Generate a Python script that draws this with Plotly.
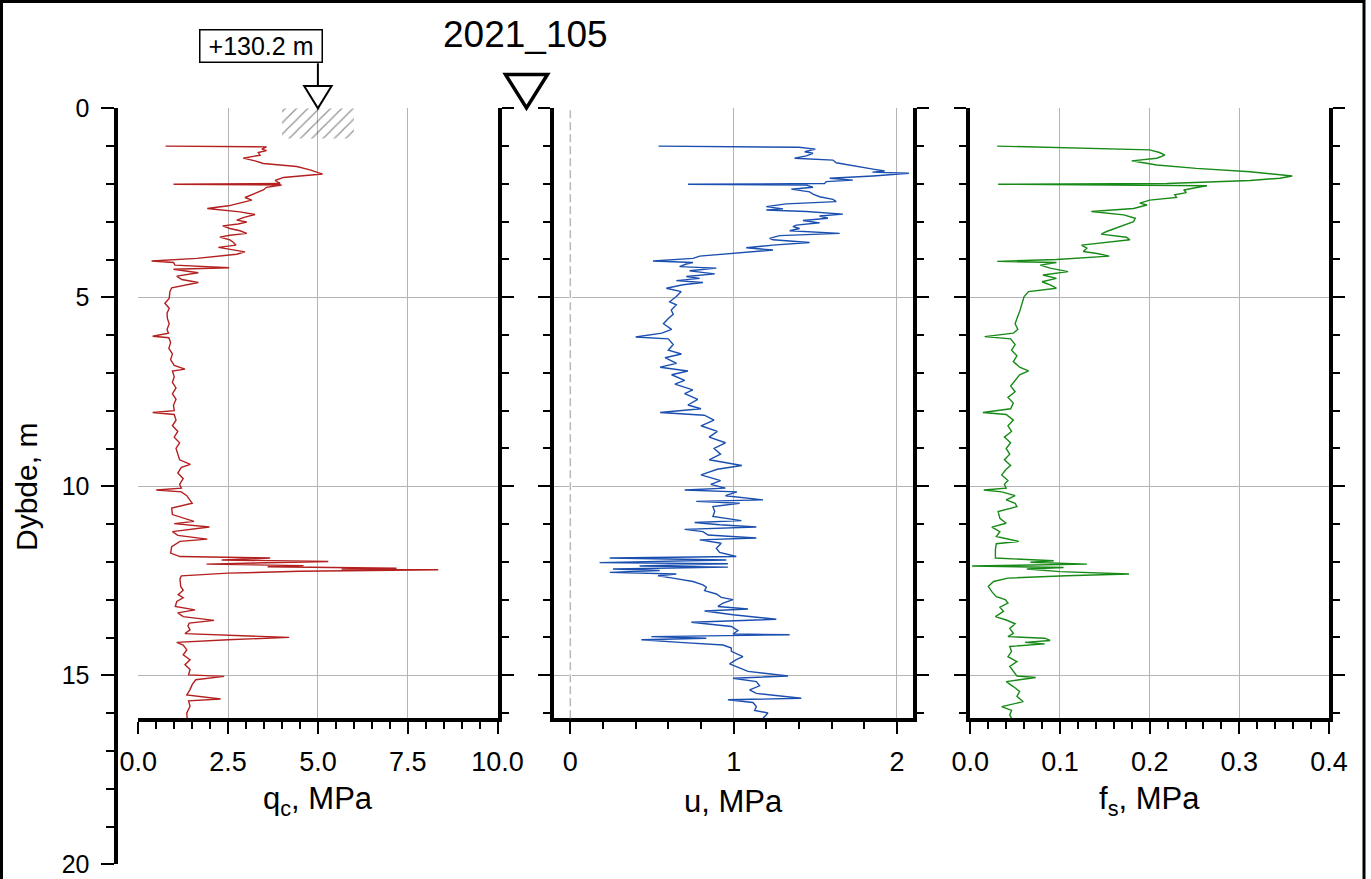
import plotly.graph_objects as go

# ---------------- data ----------------
title_text = "2021_105"
elevation_label = "+130.2 m"
depth_title = "Dybde, m"
qc_title = "q<sub>c</sub>, MPa"
u_title = "u, MPa"
fs_title = "f<sub>s</sub>, MPa"

depth_qc = [1.0, 1.02, 1.08, 1.12, 1.17, 1.24, 1.32, 1.39, 1.46, 1.54, 1.63, 1.74, 1.83, 1.91, 1.99, 2.01, 2.03,
            2.09, 2.16, 2.23, 2.29, 2.36, 2.43, 2.51, 2.58, 2.65, 2.71, 2.74, 2.81, 2.88, 2.96, 3.01, 3.06, 3.11,
            3.18, 3.24, 3.31, 3.36, 3.41, 3.48, 3.55, 3.62, 3.68, 3.73, 3.8, 3.86, 3.97, 4.04, 4.08, 4.15, 4.22,
            4.26, 4.35, 4.44, 4.53, 4.61, 4.68, 4.75, 4.85, 5.03, 5.16, 5.29, 5.42,
            5.56, 5.7, 5.85, 5.95, 6.03, 6.07, 6.2, 6.35, 6.5, 6.65, 6.8, 6.9, 6.95, 7.1, 7.25, 7.4, 7.55, 7.7,
            7.85, 8.0, 8.05, 8.1, 8.25, 8.4, 8.55, 8.7, 8.85, 9.0, 9.15, 9.3, 9.42, 9.5, 9.65, 9.8, 9.95, 10.05,
            10.1, 10.15, 10.25,
            10.36, 10.45, 10.58, 10.75, 10.93, 10.99, 11.08, 11.2, 11.3, 11.4, 11.46, 11.6, 11.77, 11.86, 11.9,
            11.95, 11.99, 12.03, 12.06, 12.1, 12.13, 12.17, 12.19, 12.21, 12.25, 12.3, 12.37, 12.45, 12.65, 12.75,
            12.87, 12.95, 13.05, 13.18, 13.22, 13.27, 13.35, 13.45, 13.55, 13.62, 13.7, 13.8, 13.9, 13.95, 14.0,
            14.06, 14.13, 14.2, 14.33, 14.46, 14.59, 14.72, 14.85, 14.99, 15.03, 15.12, 15.25, 15.38, 15.52,
            15.63, 15.68, 15.82, 16.0, 16.14]
qc = [0.76, 3.57, 3.44, 3.57, 3.34, 3.39, 2.92, 3.25, 3.48, 4.41, 4.78, 5.13, 4.04, 3.81, 3.95, 0.98, 3.99,
      3.57, 3.48, 3.30, 3.2, 2.97, 3.16, 2.83, 2.51, 1.92, 2.46, 2.83, 3.25, 2.97, 2.74, 3.02, 2.78, 2.35,
      2.55, 2.83, 3.02, 2.55, 2.27, 2.55, 2.65, 2.72, 2.23, 2.55, 2.97, 2.74, 1.63, 0.37, 0.98, 1.02, 2.53,
      0.98, 1.67, 1.07, 1.21, 1.67, 1.25, 0.93, 0.88, 0.86, 0.74, 0.86, 0.8,
      0.81, 0.86, 0.8, 0.84, 0.4, 0.85, 0.9, 0.85, 0.95, 0.9, 1.0, 1.3, 0.95, 1.0, 0.95, 1.05, 0.95, 1.05,
      0.98, 1.0, 0.4, 1.0, 1.05, 0.95, 1.1, 1.0, 1.15, 1.05, 1.1, 1.15, 1.45, 1.2, 1.1, 1.25, 1.15, 1.2,
      0.5, 1.2, 1.35,
      1.44, 1.5, 0.93, 0.95, 1.55, 1.0, 1.98, 0.95, 1.1, 1.92, 1.16, 0.93, 0.9, 1.16, 3.67,
      2.32, 5.29, 3.4, 1.9, 4.6, 3.6, 7.19, 5.66, 8.35, 4.5, 2.5, 1.2, 1.16, 1.18, 1.25,
      1.11, 1.25, 1.07, 1.03, 1.25, 1.58, 1.1, 1.25, 2.11, 1.42, 1.38, 1.44, 1.3, 3.02, 4.2,
      2.5, 1.07, 1.25, 1.35, 1.25, 1.44, 1.3, 1.44, 1.4, 2.39, 1.6, 1.5, 1.44, 1.35,
      2.29, 1.4, 1.44, 1.35, 1.36]

depth_u = [1.0, 1.03, 1.08, 1.15, 1.19, 1.26, 1.32, 1.37, 1.44, 1.54, 1.61, 1.66, 1.69, 1.72, 1.79, 1.85, 1.9,
           1.94, 1.99, 2.01, 2.03, 2.09, 2.14, 2.21, 2.27, 2.34, 2.41, 2.47, 2.53, 2.6, 2.66, 2.69, 2.73, 2.8,
           2.85, 2.91, 2.97, 3.03, 3.09, 3.13, 3.18, 3.24, 3.31, 3.37, 3.44, 3.48, 3.55, 3.62, 3.69, 3.75, 3.79,
           3.84, 3.91, 3.97, 4.04, 4.08, 4.12, 4.19, 4.23, 4.3, 4.38, 4.45, 4.5, 4.56, 4.61, 4.67, 4.76, 4.85,
           4.98, 5.12, 5.2, 5.34, 5.45,
           5.56, 5.7, 5.85, 5.95, 6.05, 6.1, 6.25, 6.4, 6.5, 6.6, 6.75, 6.85, 6.95, 7.05, 7.2, 7.3, 7.45, 7.55,
           7.7, 7.85, 7.95, 8.05, 8.12, 8.25, 8.4, 8.55, 8.7, 8.85, 9.0, 9.15, 9.3, 9.45, 9.55, 9.7, 9.85, 9.95,
           10.05, 10.1, 10.15, 10.25,
           10.36, 10.4, 10.45, 10.54, 10.67, 10.8, 10.91, 10.96, 11.02, 11.08, 11.14, 11.2, 11.29, 11.37, 11.42,
           11.51, 11.64, 11.75, 11.86, 11.9, 11.95, 12.02, 12.05, 12.11, 12.14, 12.19, 12.23, 12.28, 12.32,
           12.37, 12.43, 12.52, 12.61, 12.67, 12.76, 12.85, 12.94, 13.0, 13.09, 13.18, 13.25, 13.3, 13.4, 13.52,
           13.6, 13.71, 13.82, 13.91, 13.93, 13.98, 14.02, 14.06, 14.13, 14.2, 14.28, 14.37, 14.51, 14.59, 14.7,
           14.81, 14.9, 15.02, 15.08, 15.17, 15.28, 15.39, 15.48, 15.61, 15.65, 15.72, 15.83, 15.93, 16.0, 16.14]
u = [0.54, 1.4, 1.5, 1.435, 1.486, 1.445, 1.373, 1.608, 1.628, 1.75, 1.853, 1.925, 1.85, 2.073, 1.853, 1.588, 1.73,
     1.567, 1.557, 0.72, 1.445, 1.486, 1.353, 1.465, 1.486, 1.526, 1.608, 1.628, 1.322, 1.2, 1.302, 1.2, 1.445, 1.669,
     1.526, 1.577, 1.424, 1.526, 1.384, 1.363, 1.404, 1.343, 1.649, 1.282, 1.22, 1.241, 1.465, 1.241, 1.077, 1.241, 1.118,
     0.996, 0.792, 0.751, 0.506, 0.751, 0.71, 0.669, 0.894, 0.73, 0.884, 0.71, 0.792, 0.649, 0.812, 0.69, 0.588, 0.679,
     0.649, 0.608, 0.649, 0.618, 0.63,
     0.6, 0.57, 0.62, 0.56, 0.4, 0.6, 0.63, 0.6, 0.68, 0.58, 0.65, 0.55, 0.72, 0.62, 0.7, 0.64, 0.75, 0.7,
     0.78, 0.72, 0.8, 0.55, 0.82, 0.88, 0.8, 0.9, 0.85, 0.95, 0.88, 0.92, 0.85, 1.05, 0.9, 0.8, 0.92, 0.86,
     0.95, 0.7, 1.02, 0.95,
     1.18, 0.771, 1.037, 0.873, 0.884, 0.873, 1.047, 0.761, 0.914, 1.139, 0.7, 0.812, 0.843, 1.139, 0.792,
     0.924, 0.894, 0.914, 1.016, 0.241, 0.955, 0.179, 0.965, 0.424, 0.965, 0.261, 0.547, 0.241, 0.649,
     0.537, 0.628, 0.751, 0.812, 0.833, 0.822, 0.894, 0.924, 0.996, 0.935, 0.904, 1.088, 0.822, 0.996, 1.261,
     0.741, 0.986, 1.026, 0.996, 1.343, 0.496, 0.833, 0.435, 0.669, 0.935, 0.986, 0.986, 1.057, 1.016, 0.975,
     1.037, 1.088, 1.333, 0.996, 1.139, 1.159, 1.098, 1.139, 1.414, 0.965, 1.118, 1.139, 1.129, 1.21, 1.18]

depth_fs = [1.0, 1.1, 1.17, 1.24, 1.32, 1.39, 1.44, 1.5, 1.59, 1.68, 1.79, 1.85, 1.91, 1.99, 2.01, 2.05, 2.09,
            2.16, 2.23, 2.29, 2.36, 2.43, 2.51, 2.56, 2.65, 2.73, 2.82, 2.91, 3.0, 3.09, 3.18, 3.26, 3.33, 3.41,
            3.48, 3.55, 3.62, 3.7, 3.79, 3.85, 3.91, 4.0, 4.05, 4.08, 4.15, 4.23, 4.32, 4.41, 4.5, 4.59, 4.67,
            4.76, 4.85, 4.98, 5.16, 5.38,
            5.56, 5.7, 5.85, 5.95, 6.04, 6.1, 6.25, 6.4, 6.55, 6.7, 6.85, 6.95, 7.05, 7.2, 7.35, 7.5, 7.65, 7.8,
            7.95, 8.05, 8.1, 8.25, 8.4, 8.55, 8.7, 8.85, 9.0, 9.15, 9.3, 9.45, 9.55, 9.7, 9.85, 9.95, 10.05, 10.1,
            10.15, 10.25,
            10.36, 10.45, 10.54, 10.67, 10.85, 10.98, 11.08, 11.2, 11.33, 11.46, 11.52, 11.68, 11.9, 11.97, 12.01,
            12.06, 12.11, 12.15, 12.19, 12.26, 12.32, 12.37, 12.43, 12.52, 12.65, 12.79, 12.92, 13.0, 13.09, 13.2,
            13.31, 13.45, 13.54, 13.64, 13.76, 13.89, 13.98, 14.02, 14.08, 14.13, 14.17, 14.24, 14.37, 14.51,
            14.64, 14.77, 14.9, 15.02, 15.06, 15.17, 15.3, 15.43, 15.56, 15.7, 15.83, 15.93, 16.05, 16.14]
fs = [0.03, 0.2, 0.211, 0.217, 0.208, 0.18, 0.193, 0.208, 0.252, 0.312, 0.359, 0.345, 0.312, 0.219, 0.031, 0.264, 0.254,
      0.238, 0.241, 0.228, 0.23, 0.2, 0.189, 0.197, 0.182, 0.135, 0.171, 0.184, 0.182, 0.171, 0.161, 0.152, 0.146, 0.174,
      0.178, 0.148, 0.124, 0.13, 0.126, 0.143, 0.155, 0.096, 0.03, 0.096, 0.078, 0.089, 0.109, 0.081, 0.096, 0.08, 0.089,
      0.096, 0.065, 0.06, 0.058, 0.055,
      0.052, 0.05, 0.053, 0.048, 0.016, 0.045, 0.05, 0.046, 0.052, 0.048, 0.055, 0.065, 0.055, 0.05, 0.045, 0.05, 0.042, 0.048,
      0.045, 0.014, 0.04, 0.048, 0.042, 0.046, 0.038, 0.045, 0.04, 0.044, 0.038, 0.045, 0.04, 0.035, 0.042, 0.038, 0.04, 0.015,
      0.035, 0.05,
      0.04, 0.05, 0.052, 0.031, 0.033, 0.04, 0.024, 0.033, 0.029, 0.054, 0.029, 0.028, 0.028, 0.093, 0.067,
      0.13, 0.002, 0.104, 0.063, 0.1, 0.177, 0.107, 0.042, 0.026, 0.02, 0.024, 0.029, 0.039, 0.042, 0.033,
      0.037, 0.028, 0.04, 0.05, 0.044, 0.048, 0.042, 0.083, 0.089, 0.061, 0.083, 0.044, 0.046, 0.042,
      0.052, 0.044, 0.048, 0.052, 0.073, 0.04, 0.048, 0.055, 0.052, 0.059, 0.035, 0.046, 0.044, 0.046]

hatch_qc = [4.0, 6.0]
hatch_depth = [0.0, 0.8]
marker_qc = 5.0

qc_range = [0, 10]
u_range = [-0.1, 2.1]
fs_range = [0, 0.4]
panel_depth_range = [16.14, 0]
main_depth_range = [20, 0]

# ---------------- layout helpers ----------------
W, H = 1371, 879
FONT = "Liberation Sans, Arial, sans-serif"


def px(p):
    return p / W


def py(p):
    return 1 - p / H


GRID = "#b4b4b4"
C_QC = "#b41f1f"
C_U = "#1b4faf"
C_FS = "#178a17"

fig = go.Figure()

fig.add_trace(go.Scatter(
    x=[hatch_qc[0], hatch_qc[1], hatch_qc[1], hatch_qc[0], hatch_qc[0]],
    y=[hatch_depth[0], hatch_depth[0], hatch_depth[1], hatch_depth[1], hatch_depth[0]],
    mode="lines", fill="toself", line=dict(width=0, color="rgba(0,0,0,0)"),
    fillcolor="rgba(0,0,0,0)",
    fillpattern=dict(shape="/", fgcolor="#222222", bgcolor="rgba(0,0,0,0)", size=8, solidity=0.15),
    xaxis="x", yaxis="y", showlegend=False, hoverinfo="skip"))

fig.add_trace(go.Scatter(x=qc, y=depth_qc, mode="lines", line=dict(color=C_QC, width=1.4),
                         xaxis="x", yaxis="y", showlegend=False))
fig.add_trace(go.Scatter(x=u, y=depth_u, mode="lines", line=dict(color=C_U, width=1.4),
                         xaxis="x2", yaxis="y2", showlegend=False))
fig.add_trace(go.Scatter(x=fs, y=depth_fs, mode="lines", line=dict(color=C_FS, width=1.4),
                         xaxis="x3", yaxis="y3", showlegend=False))
# carrier for the main depth axis
fig.add_trace(go.Scatter(x=[None], y=[None], xaxis="x4", yaxis="y4", showlegend=False, hoverinfo="skip"))

tickfont = dict(family=FONT, size=27, color="black")
panel_top = py(108.3)
panel_bot = py(718.3)


def xaxis_cfg(domain, rng, dtick, minor_dtick, fmt, anchor):
    return dict(domain=domain, range=rng, anchor=anchor, side="bottom", automargin=False,
                showline=True, linewidth=4, linecolor="black",
                ticks="outside", ticklen=12, tickwidth=2, tickcolor="black",
                tick0=0, dtick=dtick, tickformat=fmt, tickfont=tickfont, ticklabelstandoff=4,
                minor=dict(dtick=minor_dtick, ticks="outside", ticklen=7, tickwidth=2,
                           tickcolor="black", showgrid=False),
                showgrid=True, gridcolor=GRID, gridwidth=1, zeroline=False, fixedrange=True)


def yaxis_cfg(anchor, side, mirror):
    return dict(domain=[panel_bot, panel_top], range=panel_depth_range, anchor=anchor, side=side,
                automargin=False, mirror=mirror, showline=True, linewidth=4, linecolor="black",
                ticks="outside", ticklen=12, tickwidth=2, tickcolor="black",
                tick0=0, dtick=5, showticklabels=False,
                minor=dict(dtick=1, ticks="outside", ticklen=7, tickwidth=2,
                           tickcolor="black", showgrid=False),
                showgrid=True, gridcolor=GRID, gridwidth=1, zeroline=False, fixedrange=True)


x1 = xaxis_cfg([px(138.3), px(497.5)], qc_range, 2.5, 0.5, ".1f", "y")
x2 = xaxis_cfg([px(554), px(913.3)], u_range, 1, 0.2, "d", "y2")
x2.update(zeroline=True, zerolinecolor="white", zerolinewidth=3)
x3 = xaxis_cfg([px(970.3), px(1329)], fs_range, 0.1, 0.02, ".1f", "y3")

fig.update_layout(
    width=W, height=H,
    margin=dict(l=0, r=0, t=0, b=0, pad=0, autoexpand=False),
    paper_bgcolor="white", plot_bgcolor="rgba(0,0,0,0)",
    font=dict(family=FONT, color="black"),
    showlegend=False,
    xaxis=x1, xaxis2=x2, xaxis3=x3,
    yaxis=yaxis_cfg("x", "right", False),
    yaxis2=yaxis_cfg("x2", "left", "ticks"),
    yaxis3=yaxis_cfg("x3", "left", "ticks"),
    xaxis4=dict(domain=[0, 0.05], range=[0, 1], visible=False, anchor="y4", fixedrange=True,
                automargin=False),
    yaxis4=dict(domain=[py(864.3), panel_top], range=main_depth_range, anchor="free",
                position=px(115.5), side="left", showline=True, linewidth=4, linecolor="black",
                automargin=False,
                ticks="outside", ticklen=13, tickwidth=2, tickcolor="black", tick0=0, dtick=5,
                tickfont=dict(family=FONT, size=25, color="black"), ticklabelstandoff=6,
                minor=dict(dtick=1, ticks="outside", ticklen=8, tickwidth=2, tickcolor="black",
                           showgrid=False),
                showgrid=False, zeroline=False, fixedrange=True),
)

shapes = [
    # outer frame
    dict(type="rect", xref="paper", yref="paper", x0=px(1.5), x1=px(1364), y0=-0.05, y1=py(1.5),
         line=dict(color="black", width=3), fillcolor="rgba(0,0,0,0)", layer="above"),
    # dashed zero line of u
    dict(type="line", xref="x2", x0=0, x1=0, yref="y2 domain", y0=0, y1=1,
         line=dict(color="#b8b8b8", width=1.5, dash="8px,4px"), layer="above"),
    # stem from elevation box
    dict(type="line", xref="x", x0=marker_qc, x1=marker_qc, yref="paper", y0=py(63.3), y1=py(86),
         line=dict(color="black", width=2), layer="above"),
    # small ground-level triangle
    dict(type="path", xref="x", xsizemode="pixel", xanchor=marker_qc, yref="paper",
         path=f"M-13.7,{py(86)} L13.7,{py(86)} L0,{py(108.3)} Z",
         line=dict(color="black", width=2), fillcolor="white", layer="above"),
    # big water-level triangle between panels
    dict(type="path", xref="paper", yref="paper",
         path=f"M{px(505.5)},{py(74.5)} L{px(547.5)},{py(74.5)} L{px(526.5)},{py(108)} Z",
         line=dict(color="black", width=3.5), fillcolor="white", layer="above"),
]
fig.update_layout(shapes=shapes)

ann = [
    dict(text=title_text, xref="paper", yref="paper", x=px(525), y=py(34), xanchor="center",
         yanchor="middle", showarrow=False, font=dict(family=FONT, size=37, color="black")),
    dict(text=elevation_label, xref="x", x=marker_qc, xanchor="right", xshift=5.4,
         yref="paper", y=py(46.3), yanchor="middle", showarrow=False,
         bordercolor="black", borderwidth=1.5, borderpad=2, bgcolor="white",
         width=117, height=27, font=dict(family=FONT, size=25, color="black")),
    dict(text=depth_title, xref="paper", yref="paper", x=px(27), y=py(487), textangle=-90,
         xanchor="center", yanchor="middle", showarrow=False,
         font=dict(family=FONT, size=30, color="black")),
    dict(text=qc_title, xref="x domain", x=0.5, yref="paper", y=py(801), xanchor="center",
         yanchor="middle", showarrow=False, font=dict(family=FONT, size=31, color="black")),
    dict(text=u_title, xref="x2 domain", x=0.5, yref="paper", y=py(801), xanchor="center",
         yanchor="middle", showarrow=False, font=dict(family=FONT, size=31, color="black")),
    dict(text=fs_title, xref="x3 domain", x=0.5, yref="paper", y=py(801), xanchor="center",
         yanchor="middle", showarrow=False, font=dict(family=FONT, size=31, color="black")),
]
fig.update_layout(annotations=ann)

fig.write_html("out.html")
